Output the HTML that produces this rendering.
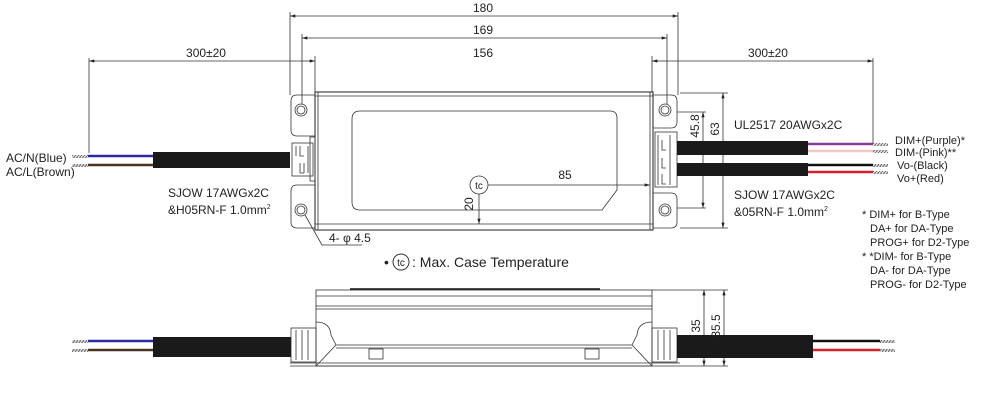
<!DOCTYPE html>
<html><head><meta charset="utf-8"><style>
html,body{margin:0;padding:0;background:#fff;}
svg{display:block;font-family:"Liberation Sans",Arial,sans-serif;}
</style></head><body>
<svg width="1000" height="403" viewBox="0 0 1000 403" xmlns="http://www.w3.org/2000/svg">
<defs>
<marker id="a" viewBox="0 0 10 6" refX="10" refY="3" markerWidth="8" markerHeight="4" orient="auto-start-reverse"><path d="M0,0 L10,3 L0,6z" fill="#222"/></marker>
<pattern id="h" width="3" height="4" patternUnits="userSpaceOnUse"><rect width="3" height="4" fill="#ddd"/><line x1="0" y1="4" x2="3" y2="0" stroke="#666" stroke-width="1"/></pattern>
</defs>
<g stroke="#333" stroke-width="0.8" fill="none">
<line x1="290" y1="16" x2="678" y2="16" marker-start="url(#a)" marker-end="url(#a)"/>
<line x1="302" y1="38" x2="667" y2="38" marker-start="url(#a)" marker-end="url(#a)"/>
<line x1="300" y1="61" x2="315" y2="61" marker-end="url(#a)"/>
<line x1="652" y1="61" x2="667" y2="61" marker-start="url(#a)"/>
<line x1="89" y1="61" x2="300" y2="61" marker-start="url(#a)"/>
<line x1="667" y1="61" x2="873" y2="61" marker-end="url(#a)"/>
<line x1="290" y1="12" x2="290" y2="95"/>
<line x1="678" y1="12" x2="678" y2="95"/>
<line x1="302" y1="34" x2="302" y2="104"/>
<line x1="667" y1="34" x2="667" y2="104"/>
<line x1="315" y1="56" x2="315" y2="92"/>
<line x1="652" y1="56" x2="652" y2="92"/>
<line x1="89" y1="58" x2="89" y2="153"/>
<line x1="873" y1="58" x2="873" y2="143"/>
<rect x="315" y="92" width="338" height="138" stroke="#222" stroke-width="1"/>
<line x1="318" y1="92" x2="318" y2="230"/>
<line x1="650" y1="92" x2="650" y2="230"/>
<line x1="315" y1="96" x2="653" y2="96"/>
<line x1="315" y1="224" x2="653" y2="224"/>
<path d="M360,111 H610 Q617,111 617,118 V190 L602,210 H360 Q352,210 352,202 V119 Q352,111 360,111Z"/>
<path d="M315,95 H297 Q291,95 291,101 V130 Q291,136 297,136 H315"/>
<path d="M315,185 H297 Q291,185 291,191 V222 Q291,228 297,228 H315"/>
<path d="M653,95 H671 Q677,95 677,101 V122 Q677,128 671,128 H653"/>
<path d="M653,193 H671 Q677,193 677,199 V222 Q677,228 671,228 H653"/>
<circle cx="301" cy="110" r="6"/><circle cx="301" cy="110" r="4"/>
<circle cx="301" cy="210" r="6"/><circle cx="301" cy="210" r="4"/>
<circle cx="665" cy="110" r="6"/><circle cx="665" cy="110" r="4"/>
<circle cx="665" cy="210" r="6"/><circle cx="665" cy="210" r="4"/>
<rect x="292" y="143" width="21" height="33"/>
<rect x="310" y="137" width="5" height="44"/>
<path d="M296,146 v10 M300,146 v10 h4 M304,163 v10 M300,163 v10 h4 M308,146v27"/>
<rect x="655" y="132" width="22" height="55"/>
<path d="M658,135 v50 M662,140 v10 h4 M662,158 v10 h4 M662,174 v10 h4 M670,135v50"/>
<line x1="677" y1="112" x2="706" y2="112"/>
<line x1="677" y1="208" x2="706" y2="208"/>
<line x1="703" y1="112" x2="703" y2="208" marker-start="url(#a)" marker-end="url(#a)"/>
<line x1="680" y1="93" x2="728" y2="93"/>
<line x1="680" y1="228" x2="728" y2="228"/>
<line x1="723" y1="93" x2="723" y2="228" marker-start="url(#a)" marker-end="url(#a)"/>
<circle cx="479" cy="185" r="9"/>
<line x1="488" y1="185" x2="650" y2="185" marker-end="url(#a)"/>
<line x1="479" y1="194" x2="479" y2="224" marker-end="url(#a)"/>
<polyline points="305,215 322,245 362,245"/>
</g>
<rect x="153" y="152" width="137" height="16" fill="#1a1a1a"/>
<line x1="88" y1="156" x2="153" y2="156" stroke="#2b2aa0" stroke-width="2.5"/>
<line x1="88" y1="165" x2="153" y2="165" stroke="#4a3520" stroke-width="2.5"/>
<rect x="72" y="155" width="16" height="3" fill="url(#h)"/>
<rect x="72" y="164" width="16" height="3" fill="url(#h)"/>
<rect x="677" y="141" width="131" height="14" fill="#1a1a1a"/>
<rect x="677" y="163" width="131" height="13" fill="#1a1a1a"/>
<line x1="808" y1="144" x2="873" y2="144" stroke="#8a3a9a" stroke-width="2.5"/>
<line x1="808" y1="151" x2="873" y2="151" stroke="#f3c8c8" stroke-width="2.5"/>
<line x1="808" y1="165" x2="873" y2="165" stroke="#111" stroke-width="2.5"/>
<line x1="808" y1="172" x2="873" y2="172" stroke="#d5202a" stroke-width="2.5"/>
<rect x="873" y="143" width="15" height="3" fill="url(#h)"/>
<rect x="873" y="150" width="15" height="3" fill="url(#h)"/>
<rect x="873" y="164" width="15" height="3" fill="url(#h)"/>
<rect x="873" y="171" width="15" height="3" fill="url(#h)"/>
<g stroke="#333" stroke-width="0.8" fill="none">
<rect x="316" y="290" width="336" height="76"/>
<line x1="350" y1="289" x2="600" y2="289" stroke-width="1.5" stroke="#111"/>
<line x1="316" y1="296" x2="652" y2="296"/>
<line x1="316" y1="306" x2="652" y2="306"/>
<line x1="316" y1="309" x2="652" y2="309"/>
<line x1="290" y1="363" x2="680" y2="363"/>
<line x1="290" y1="366" x2="680" y2="366"/>
<path d="M316,322 Q330,322 331,335 L336,345 H632 L637,335 Q638,322 652,322"/>
<path d="M316,366 L336,345 M652,366 L632,345"/>
<line x1="336" y1="348" x2="632" y2="348"/>
<rect x="369" y="349" width="14" height="10"/>
<rect x="585" y="349" width="14" height="10"/>
<rect x="291" y="328" width="25" height="34"/>
<path d="M296,330v30 M302,330v30 M308,330v30"/>
<rect x="652" y="328" width="25" height="34"/>
<path d="M658,330v30 M664,330v30 M670,330v30"/>
<line x1="652" y1="290" x2="728" y2="290"/>
<line x1="680" y1="366" x2="728" y2="366"/>
<line x1="704" y1="290" x2="704" y2="366" marker-start="url(#a)" marker-end="url(#a)"/>
<line x1="724" y1="290" x2="724" y2="366" marker-start="url(#a)" marker-end="url(#a)"/>
</g>
<rect x="153" y="337" width="138" height="20" fill="#1a1a1a"/>
<line x1="88" y1="341" x2="153" y2="341" stroke="#2b2aa0" stroke-width="2.5"/>
<line x1="88" y1="350" x2="153" y2="350" stroke="#4a3520" stroke-width="2.5"/>
<rect x="72" y="340" width="16" height="3" fill="url(#h)"/>
<rect x="72" y="349" width="16" height="3" fill="url(#h)"/>
<rect x="677" y="335" width="136" height="23" fill="#1a1a1a"/>
<line x1="813" y1="341" x2="880" y2="341" stroke="#111" stroke-width="2.5"/>
<line x1="813" y1="350" x2="880" y2="350" stroke="#d5202a" stroke-width="2.5"/>
<rect x="880" y="340" width="15" height="3" fill="url(#h)"/>
<rect x="880" y="349" width="15" height="3" fill="url(#h)"/>
<g font-size="12" fill="#222">
<text x="483" y="12" text-anchor="middle">180</text>
<text x="483" y="34" text-anchor="middle">169</text>
<text x="483" y="57" text-anchor="middle">156</text>
<text x="206" y="57" text-anchor="middle">300±20</text>
<text x="768" y="57" text-anchor="middle">300±20</text>
<text x="565" y="179" text-anchor="middle">85</text>
<text x="479" y="189" text-anchor="middle" font-size="10">tc</text>
<text transform="translate(473,204) rotate(-90)" text-anchor="middle">20</text>
<text transform="translate(699,126) rotate(-90)" text-anchor="middle">45.8</text>
<text transform="translate(719,129) rotate(-90)" text-anchor="middle">63</text>
<text transform="translate(700,326) rotate(-90)" text-anchor="middle">35</text>
<text transform="translate(720,326) rotate(-90)" text-anchor="middle">35.5</text>
<text x="6" y="162">AC/N(Blue)</text>
<text x="6" y="176">AC/L(Brown)</text>
<text x="168" y="197">SJOW 17AWGx2C</text>
<text x="168" y="214">&amp;H05RN-F 1.0mm<tspan font-size="7" dy="-5">2</tspan></text>
<text x="734" y="129">UL2517 20AWGx2C</text>
<text x="734" y="199">SJOW 17AWGx2C</text>
<text x="734" y="216">&amp;05RN-F 1.0mm<tspan font-size="7" dy="-5">2</tspan></text>
<text x="329" y="242">4- φ 4.5</text>
<g font-size="11">
<text x="895" y="144">DIM+(Purple)*</text>
<text x="895" y="156">DIM-(Pink)**</text>
<text x="897" y="169">Vo-(Black)</text>
<text x="897" y="182">Vo+(Red)</text>
<text x="862" y="218">* DIM+ for B-Type</text>
<text x="870" y="232">DA+ for DA-Type</text>
<text x="870" y="246">PROG+ for D2-Type</text>
<text x="862" y="260">* *DIM- for B-Type</text>
<text x="870" y="274">DA- for DA-Type</text>
<text x="870" y="288">PROG- for D2-Type</text>
</g>
<text x="384" y="267" font-size="14">•</text>
<circle cx="401" cy="262" r="8" fill="none" stroke="#222" stroke-width="0.9"/>
<text x="401" y="266" font-size="10" text-anchor="middle">tc</text>
<text x="412" y="267" font-size="14">: Max. Case Temperature</text>
</g>
</svg>
</body></html>
